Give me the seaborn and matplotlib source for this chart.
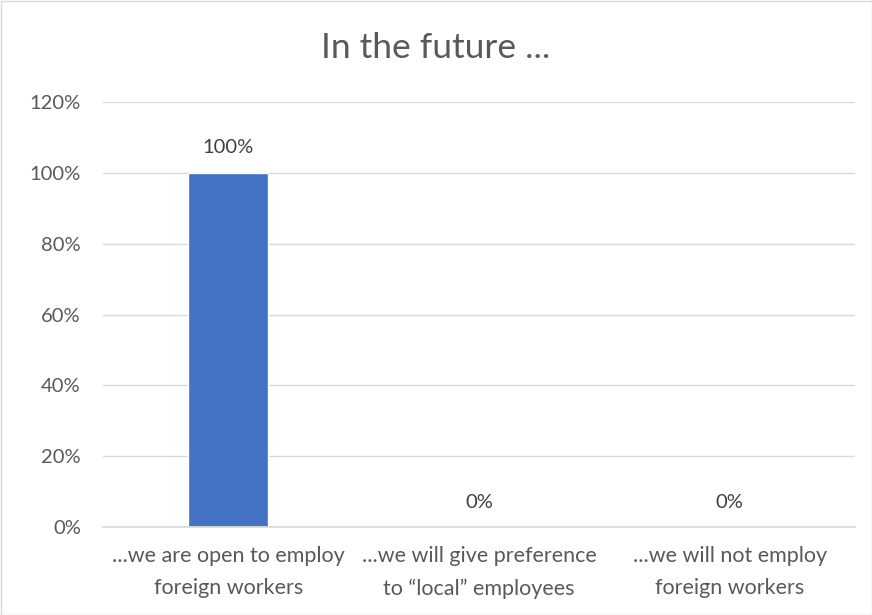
import matplotlib
matplotlib.use("Agg")
import matplotlib.pyplot as plt
import seaborn as sns
import pandas as pd
from matplotlib.patches import Rectangle

categories = ["...we are open to employ\nforeign workers",
              "...we will give preference\nto \u201clocal\u201d employees",
              "...we will not employ\nforeign workers"]
values = [1.00, 0.0, 0.0]
value_labels = ["100%", "0%", "0%"]
yticks = [0, 0.2, 0.4, 0.6, 0.8, 1.0, 1.2]
ytick_labels = ["0%", "20%", "40%", "60%", "80%", "100%", "120%"]
title = "In the future ..."

sns.set_theme(style="white")
plt.rcParams['font.family'] = ['Lato', 'DejaVu Sans']

df = pd.DataFrame({"cat": categories, "val": values})

fig = plt.figure(figsize=(8.72, 6.15), dpi=100)
ax = fig.add_axes([103/872, 1 - 527/615, 752/872, 425/615])
sns.barplot(data=df, x="cat", y="val", color="#4472C4", width=0.32, ax=ax, saturation=1)

ax.set_ylim(0, 1.2)
ax.set_xlim(-0.5, 2.5)
ax.set_yticks(yticks)
ax.set_yticklabels(ytick_labels, fontsize=14.5, color="#595959")
ax.set_xticks(range(len(categories)))
ax.set_xticklabels(categories, fontsize=15.5, color="#595959", linespacing=1.75)
ax.set_xlabel("")
ax.set_ylabel("")
ax.grid(axis="y", color="#d9d9d9", linewidth=1)
ax.set_axisbelow(True)
for s in ["top", "right", "left"]:
    ax.spines[s].set_visible(False)
ax.spines["bottom"].set_color("#d9d9d9")
ax.tick_params(axis="y", length=0, pad=16)
ax.tick_params(axis="x", length=0, pad=14)

for i, (v, lab) in enumerate(zip(values, value_labels)):
    ax.annotate(lab, (i, v), xytext=(0, 18), textcoords="offset points",
                ha="center", va="center", fontsize=14.5, color="#404040")

fig.text(0.5, 1 - 48/615, title, ha="center", va="center", fontsize=25.5, color="#595959")
fig.patches.append(Rectangle((0.5/872, 0.5/615), 1 - 1/872, 1 - 1/615, transform=fig.transFigure,
                             fill=False, edgecolor="#d9d9d9", linewidth=1))

fig.savefig("out.png", dpi=100)
